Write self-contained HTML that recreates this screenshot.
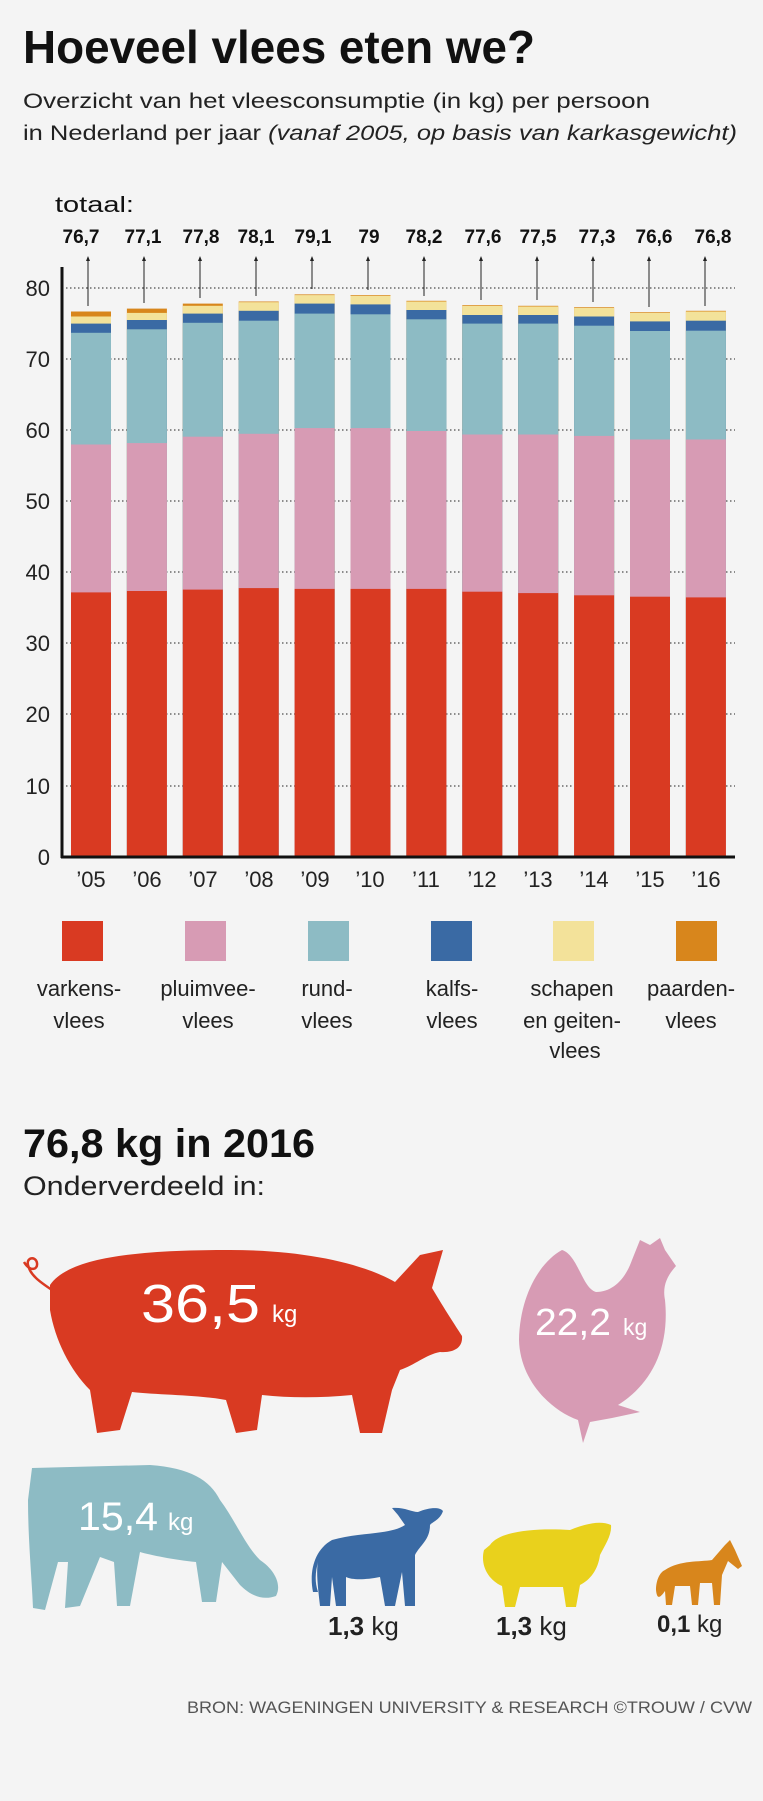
<!DOCTYPE html>
<html><head><meta charset="utf-8"><style>
html,body{margin:0;padding:0;background:#f4f4f4;}
svg{display:block;}
text{font-family:"Liberation Sans",sans-serif;}
</style></head><body>
<svg width="763" height="1801" viewBox="0 0 763 1801" xmlns="http://www.w3.org/2000/svg" fill="#111">
<rect width="763" height="1801" fill="#f4f4f4"/>
<text x="23" y="63" font-size="46" font-weight="bold" textLength="512" lengthAdjust="spacingAndGlyphs" fill="#111">Hoeveel vlees eten we?</text>
<text x="23" y="108" font-size="21" textLength="627" lengthAdjust="spacingAndGlyphs" fill="#222">Overzicht van het vleesconsumptie (in kg) per persoon</text>
<text x="23" y="140" font-size="21" textLength="714" lengthAdjust="spacingAndGlyphs" fill="#222">in Nederland per jaar <tspan font-style="italic">(vanaf 2005, op basis van karkasgewicht)</tspan></text>
<text x="55" y="212" font-size="22" textLength="79" lengthAdjust="spacingAndGlyphs" fill="#111">totaal:</text>
<g font-size="19" font-weight="bold" text-anchor="middle" fill="#111">
<text x="81" y="243">76,7</text><text x="143" y="243">77,1</text><text x="201" y="243">77,8</text><text x="256" y="243">78,1</text><text x="313" y="243">79,1</text><text x="369" y="243">79</text><text x="424" y="243">78,2</text><text x="483" y="243">77,6</text><text x="538" y="243">77,5</text><text x="597" y="243">77,3</text><text x="654" y="243">76,6</text><text x="713" y="243">76,8</text>
</g>
<g stroke="#222" stroke-width="1" stroke-dasharray="1.5,2.5">
<line x1="66" x2="735" y1="288" y2="288"/><line x1="66" x2="735" y1="359" y2="359"/><line x1="66" x2="735" y1="430" y2="430"/><line x1="66" x2="735" y1="501" y2="501"/><line x1="66" x2="735" y1="572" y2="572"/><line x1="66" x2="735" y1="643" y2="643"/><line x1="66" x2="735" y1="714" y2="714"/><line x1="66" x2="735" y1="786" y2="786"/>
</g>
<g font-size="22" text-anchor="end" fill="#222">
<text x="50" y="296">80</text><text x="50" y="367">70</text><text x="50" y="438">60</text><text x="50" y="509">50</text><text x="50" y="580">40</text><text x="50" y="651">30</text><text x="50" y="722">20</text><text x="50" y="794">10</text><text x="50" y="865">0</text>
</g>
<g>
<g transform="translate(71,0)"><rect y="311.5" width="40" height="545.5" fill="#d8861c"/><rect y="316.5" width="40" height="540.5" fill="#f3e29a"/><rect y="323.6" width="40" height="533.4" fill="#3a6aa4"/><rect y="332.8" width="40" height="524.2" fill="#8dbbc4"/><rect y="444.5" width="40" height="412.5" fill="#d79bb4"/><rect y="592.4" width="40" height="264.6" fill="#d93a22"/></g>
<g transform="translate(126.9,0)"><rect y="308.6" width="40" height="548.4" fill="#d8861c"/><rect y="312.9" width="40" height="544.1" fill="#f3e29a"/><rect y="320" width="40" height="537" fill="#3a6aa4"/><rect y="329.3" width="40" height="527.7" fill="#8dbbc4"/><rect y="443.1" width="40" height="413.9" fill="#d79bb4"/><rect y="591" width="40" height="266" fill="#d93a22"/></g>
<g transform="translate(182.8,0)"><rect y="303.6" width="40" height="553.4" fill="#d8861c"/><rect y="305.8" width="40" height="551.2" fill="#f3e29a"/><rect y="313.6" width="40" height="543.4" fill="#3a6aa4"/><rect y="322.8" width="40" height="534.2" fill="#8dbbc4"/><rect y="436.7" width="40" height="420.3" fill="#d79bb4"/><rect y="589.6" width="40" height="267.4" fill="#d93a22"/></g>
<g transform="translate(238.7,0)"><rect y="301.5" width="40" height="555.5" fill="#d8861c"/><rect y="302.2" width="40" height="554.8" fill="#f3e29a"/><rect y="310.8" width="40" height="546.2" fill="#3a6aa4"/><rect y="320.7" width="40" height="536.3" fill="#8dbbc4"/><rect y="433.8" width="40" height="423.2" fill="#d79bb4"/><rect y="588.1" width="40" height="268.9" fill="#d93a22"/></g>
<g transform="translate(294.6,0)"><rect y="294.4" width="40" height="562.6" fill="#d8861c"/><rect y="295.1" width="40" height="561.9" fill="#f3e29a"/><rect y="303.6" width="40" height="553.4" fill="#3a6aa4"/><rect y="313.6" width="40" height="543.4" fill="#8dbbc4"/><rect y="428.1" width="40" height="428.9" fill="#d79bb4"/><rect y="588.9" width="40" height="268.1" fill="#d93a22"/></g>
<g transform="translate(350.5,0)"><rect y="295.1" width="40" height="561.9" fill="#d8861c"/><rect y="295.8" width="40" height="561.2" fill="#f3e29a"/><rect y="304.4" width="40" height="552.6" fill="#3a6aa4"/><rect y="314.3" width="40" height="542.7" fill="#8dbbc4"/><rect y="428.1" width="40" height="428.9" fill="#d79bb4"/><rect y="588.9" width="40" height="268.1" fill="#d93a22"/></g>
<g transform="translate(406.4,0)"><rect y="300.8" width="40" height="556.2" fill="#d8861c"/><rect y="301.5" width="40" height="555.5" fill="#f3e29a"/><rect y="310" width="40" height="547" fill="#3a6aa4"/><rect y="319.3" width="40" height="537.7" fill="#8dbbc4"/><rect y="431" width="40" height="426" fill="#d79bb4"/><rect y="588.9" width="40" height="268.1" fill="#d93a22"/></g>
<g transform="translate(462.3,0)"><rect y="305.1" width="40" height="551.9" fill="#d8861c"/><rect y="305.8" width="40" height="551.2" fill="#f3e29a"/><rect y="315" width="40" height="542" fill="#3a6aa4"/><rect y="323.6" width="40" height="533.4" fill="#8dbbc4"/><rect y="434.5" width="40" height="422.5" fill="#d79bb4"/><rect y="591.7" width="40" height="265.3" fill="#d93a22"/></g>
<g transform="translate(518.2,0)"><rect y="305.8" width="40" height="551.2" fill="#d8861c"/><rect y="306.5" width="40" height="550.5" fill="#f3e29a"/><rect y="315" width="40" height="542" fill="#3a6aa4"/><rect y="323.6" width="40" height="533.4" fill="#8dbbc4"/><rect y="434.5" width="40" height="422.5" fill="#d79bb4"/><rect y="593.1" width="40" height="263.9" fill="#d93a22"/></g>
<g transform="translate(574.1,0)"><rect y="307.2" width="40" height="549.8" fill="#d8861c"/><rect y="307.9" width="40" height="549.1" fill="#f3e29a"/><rect y="316.5" width="40" height="540.5" fill="#3a6aa4"/><rect y="325.7" width="40" height="531.3" fill="#8dbbc4"/><rect y="435.9" width="40" height="421.1" fill="#d79bb4"/><rect y="595.3" width="40" height="261.7" fill="#d93a22"/></g>
<g transform="translate(630,0)"><rect y="312.2" width="40" height="544.8" fill="#d8861c"/><rect y="312.9" width="40" height="544.1" fill="#f3e29a"/><rect y="321.4" width="40" height="535.6" fill="#3a6aa4"/><rect y="331" width="40" height="526" fill="#8dbbc4"/><rect y="439.5" width="40" height="417.5" fill="#d79bb4"/><rect y="596.7" width="40" height="260.3" fill="#d93a22"/></g>
<g transform="translate(685.9,0)"><rect y="310.8" width="40" height="546.2" fill="#d8861c"/><rect y="311.5" width="40" height="545.5" fill="#f3e29a"/><rect y="320.7" width="40" height="536.3" fill="#3a6aa4"/><rect y="330.7" width="40" height="526.3" fill="#8dbbc4"/><rect y="439.5" width="40" height="417.5" fill="#d79bb4"/><rect y="597.4" width="40" height="259.6" fill="#d93a22"/></g>
</g>
<g stroke="#222" stroke-width="1">
<line x1="88" x2="88" y1="258" y2="306"/><line x1="144" x2="144" y1="258" y2="303"/><line x1="200" x2="200" y1="258" y2="298"/><line x1="256" x2="256" y1="258" y2="296"/><line x1="312" x2="312" y1="258" y2="289"/><line x1="368" x2="368" y1="258" y2="290"/><line x1="424" x2="424" y1="258" y2="296"/><line x1="481" x2="481" y1="258" y2="300"/><line x1="537" x2="537" y1="258" y2="300"/><line x1="593" x2="593" y1="258" y2="302"/><line x1="649" x2="649" y1="258" y2="307"/><line x1="705" x2="705" y1="258" y2="306"/>
</g>
<g fill="#222">
<path d="M86,261 L88,256 L90,261Z"/><path d="M142,261 L144,256 L146,261Z"/><path d="M198,261 L200,256 L202,261Z"/><path d="M254,261 L256,256 L258,261Z"/><path d="M310,261 L312,256 L314,261Z"/><path d="M366,261 L368,256 L370,261Z"/><path d="M422,261 L424,256 L426,261Z"/><path d="M479,261 L481,256 L483,261Z"/><path d="M535,261 L537,256 L539,261Z"/><path d="M591,261 L593,256 L595,261Z"/><path d="M647,261 L649,256 L651,261Z"/><path d="M703,261 L705,256 L707,261Z"/>
</g>
<line x1="62" x2="62" y1="267" y2="858" stroke="#111" stroke-width="3"/>
<line x1="61" x2="735" y1="857" y2="857" stroke="#111" stroke-width="3"/>
<g font-size="22" text-anchor="middle" fill="#222">
<text x="91" y="887">’05</text><text x="147" y="887">’06</text><text x="203" y="887">’07</text><text x="259" y="887">’08</text><text x="315" y="887">’09</text><text x="370" y="887">’10</text><text x="426" y="887">’11</text><text x="482" y="887">’12</text><text x="538" y="887">’13</text><text x="594" y="887">’14</text><text x="650" y="887">’15</text><text x="706" y="887">’16</text>
</g>
<rect x="62" y="921" width="41" height="40" fill="#d93a22"/>
<rect x="185" y="921" width="41" height="40" fill="#d79bb4"/>
<rect x="308" y="921" width="41" height="40" fill="#8dbbc4"/>
<rect x="431" y="921" width="41" height="40" fill="#3a6aa4"/>
<rect x="553" y="921" width="41" height="40" fill="#f3e29a"/>
<rect x="676" y="921" width="41" height="40" fill="#d8861c"/>
<g font-size="22" text-anchor="middle" fill="#222">
<text x="79" y="996">varkens-</text><text x="79" y="1028">vlees</text>
<text x="208" y="996">pluimvee-</text><text x="208" y="1028">vlees</text>
<text x="327" y="996">rund-</text><text x="327" y="1028">vlees</text>
<text x="452" y="996">kalfs-</text><text x="452" y="1028">vlees</text>
<text x="572" y="996">schapen</text><text x="572" y="1028">en geiten-</text><text x="575" y="1058">vlees</text>
<text x="691" y="996">paarden-</text><text x="691" y="1028">vlees</text>
</g>
<text x="23" y="1157" font-size="40" font-weight="bold" textLength="292" lengthAdjust="spacingAndGlyphs" fill="#111">76,8 kg in 2016</text>
<text x="23" y="1195" font-size="27" textLength="242" lengthAdjust="spacingAndGlyphs" fill="#222">Onderverdeeld in:</text>
<path fill="#d93a22" d="M50,1285 C70,1255 150,1250 230,1250 C300,1250 360,1262 395,1282 L420,1255 L443,1250 L432,1288 C445,1310 455,1325 462,1336 C463,1347 455,1353 440,1352 C425,1355 415,1365 400,1370 L392,1390 L382,1433 L360,1433 L352,1395 C320,1398 290,1398 262,1395 L257,1430 L236,1433 L226,1400 C200,1395 160,1395 132,1392 L120,1430 L97,1433 L90,1390 C70,1370 55,1340 50,1310 Z"/>
<path fill="none" stroke="#d93a22" stroke-width="2.5" d="M52,1290 C40,1282 30,1275 28,1265 C26,1257 36,1256 37,1263 C38,1270 30,1272 24,1262"/>
<text x="141" y="1322" font-size="54" fill="#fff" textLength="119" lengthAdjust="spacingAndGlyphs">36,5</text>
<text x="272" y="1322" font-size="24" fill="#fff">kg</text>
<path fill="#d79bb4" d="M562,1250 C540,1262 520,1295 519,1340 C520,1380 550,1410 578,1420 L583,1443 L590,1422 L612,1418 L640,1412 L618,1405 C650,1385 670,1350 665,1300 C662,1285 668,1275 676,1266 L665,1250 L660,1238 L650,1245 L640,1240 L632,1260 C625,1280 612,1292 596,1292 C582,1288 578,1255 562,1250 Z"/>
<text x="535" y="1335" font-size="38" fill="#fff" textLength="76" lengthAdjust="spacingAndGlyphs">22,2</text>
<text x="623" y="1335" font-size="23" fill="#fff">kg</text>
<path fill="#8dbbc4" d="M32,1468 L150,1465 C190,1468 210,1480 220,1500 C235,1520 245,1545 260,1560 C275,1570 282,1585 276,1596 C262,1601 250,1595 240,1585 L222,1562 L216,1602 L202,1602 L196,1562 C175,1560 150,1555 140,1552 L130,1606 L117,1606 L114,1562 L100,1557 L80,1606 L65,1608 L68,1562 L58,1562 L45,1610 L33,1608 C32,1580 28,1540 28,1500 Z"/>
<text x="78" y="1530" font-size="40" fill="#fff" textLength="80" lengthAdjust="spacingAndGlyphs">15,4</text>
<text x="168" y="1530" font-size="24" fill="#fff">kg</text>
<path fill="#3a6aa4" d="M332,1540 C360,1532 390,1535 405,1525 L398,1515 L392,1508 C404,1507 412,1512 418,1512 C430,1507 440,1507 443,1511 C440,1520 432,1522 430,1525 C430,1540 420,1545 415,1555 L415,1606 L405,1606 L402,1572 L395,1606 L385,1606 L380,1577 C365,1580 352,1580 346,1577 L346,1606 L336,1606 L332,1577 L330,1606 L320,1606 C318,1588 316,1572 318,1562 C316,1570 314,1580 318,1592 L313,1592 C309,1572 314,1550 332,1540 Z"/>
<path fill="#e9d11c" d="M490,1545 C500,1530 540,1528 570,1530 C585,1524 600,1520 611,1525 C612,1535 605,1545 600,1555 C598,1570 590,1580 580,1585 L576,1607 L566,1607 L563,1587 L520,1587 L515,1607 L505,1607 L502,1586 C488,1580 480,1565 484,1550 Z"/>
<path fill="#d8861c" d="M665,1570 C680,1560 700,1562 712,1560 L725,1545 L730,1540 L735,1550 L742,1566 L738,1569 L728,1561 L722,1575 L720,1605 L714,1605 L712,1583 L700,1583 L698,1605 L692,1605 L690,1586 L675,1586 L672,1605 L666,1605 L665,1591 C660,1598 657,1600 656,1590 C656,1580 660,1572 665,1570 Z"/>
<g font-size="26" fill="#222">
<text x="328" y="1635"><tspan font-weight="bold">1,3</tspan> kg</text>
<text x="496" y="1635"><tspan font-weight="bold">1,3</tspan> kg</text>
<text x="657" y="1632" font-size="24"><tspan font-weight="bold">0,1</tspan> kg</text>
</g>
<text x="187" y="1713" font-size="17" fill="#555" textLength="565" lengthAdjust="spacingAndGlyphs">BRON: WAGENINGEN UNIVERSITY &amp; RESEARCH ©TROUW / CVW</text>
</svg>
</body></html>
